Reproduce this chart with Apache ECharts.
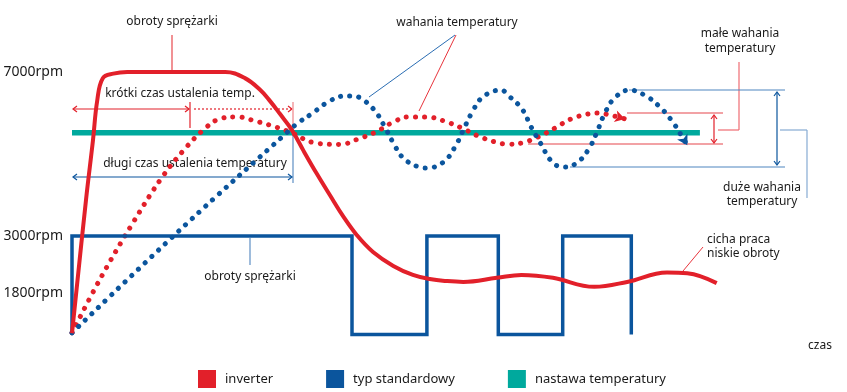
<!DOCTYPE html>
<html><head><meta charset="utf-8">
<script src="https://cdn.jsdelivr.net/npm/echarts@6/dist/echarts.min.js"></script>
<style>html,body{margin:0;padding:0;background:#fff}#c{width:847px;height:392px}</style>
</head><body><div id="c"></div>
<script>
// ---- data ----
const rpmTicks = [1800, 3000, 7000];
const legendNames = ['inverter', 'typ standardowy', 'nastawa temperatury'];
// compressor speed, inverter [time, rpm]
const invSpeed = [[0,630],[2.0,3880],[3.0,5340],[3.6,6300],[4.4,6850],[5.9,6960],[7.9,7000],[21.9,7000],[24.7,6850],[26.9,6560],[28.3,6290],[29.7,5980],[31.4,5590],[33.1,5070],[35.0,4510],[36.9,3980],[38.7,3490],[40.7,3020],[43.0,2610],[45.9,2270],[48.7,2050],[51.1,1950],[53.6,1900],[55.9,1880],[60.7,1980],[64.2,2050],[68.7,1980],[74.6,1760],[79.3,1880],[85.0,2110],[87.9,2090],[92.1,1850]];
// compressor speed, standard (on/off) [time, rpm]
const stdSpeed = [[0,600],[0,3000],[40,3000],[40,600],[50.7,600],[50.7,3000],[60.9,3000],[60.9,600],[70.1,600],[70.1,3000],[79.9,3000],[79.9,600]];
// room temperature, inverter [time, temp]
const invTemp = [[0,8],[4.1,24.7],[8.7,41.5],[12.9,55.5],[16.1,64.0],[18.9,70.1],[21.1,73.2],[23.6,73.8],[26.1,72.6],[28.7,71.0],[31.1,69.2],[34.7,65.9],[38.3,65.4],[40.9,67.1],[43.4,69.2],[45.7,72.0],[48.1,73.8],[50.7,73.8],[53.1,72.6],[55.7,70.4],[58.0,68.0],[60.4,66.2],[62.3,65.5],[64.3,65.9],[66.6,67.7],[69.0,70.4],[71.3,73.2],[73.7,74.7],[75.0,75.0],[77.4,74.1],[79.0,73.2]];
// room temperature, standard [time, temp]
const stdTemp = [[0,8],[15.9,40.3],[31.1,69.8],[32.3,72.0],[34.4,75.0],[36.6,78.4],[39.0,80.2],[40.1,80.2],[41.4,79.3],[43.3,75.6],[44.7,70.7],[45.9,65.9],[47.3,61.3],[49.6,58.5],[50.7,58.2],[53.1,60.1],[54.7,64.6],[55.9,69.8],[57.1,75.0],[58.7,79.9],[61.3,82.0],[62.4,80.2],[64.3,76.2],[65.6,70.7],[66.9,65.9],[68.7,59.8],[70.4,58.5],[72.3,60.1],[73.9,64.3],[75.0,69.2],[76.0,74.4],[77.4,79.3],[79.6,82.0],[82.0,80.2],[84.0,76.8],[85.7,72.6],[87.1,68.0],[87.9,65.2]];
// temperature setpoint
const setpoint = [[0,69],[89.7,69]];

// ---- styles ----
const RED='#e2202a', BLUE='#0b559d', TEAL='#00a99d', PINK='#f3a3a6', LBLUE='#86abd3', MBLUE='#4f86c0', TXT='#1a1a1a';
const FONT='"Noto Sans", "Open Sans", sans-serif';

function ln(x1,y1,x2,y2,color,w,dash){return {type:'line',shape:{x1,y1,x2,y2},style:{stroke:color,lineWidth:w||1.2,lineDash:dash||null},z:1};}
function pl(pts,color,w){return {type:'polyline',shape:{points:pts},style:{stroke:color,lineWidth:w||1.2,fill:null},z:1};}
function tx(t,x,y,align){return {type:'text',x:x,y:y,style:{text:t,font:'12px '+FONT,fill:TXT,align:align||'center',verticalAlign:'middle'},z:2};}
function hArrowL(x,y,c){return pl([[x+4,y-3],[x,y],[x+4,y+3]],c);}
function hArrowR(x,y,c){return pl([[x-4,y-3],[x,y],[x-4,y+3]],c);}
function vArrowU(x,y,c){return pl([[x-3,y+4],[x,y],[x+3,y+4]],c);}
function vArrowD(x,y,c){return pl([[x-3,y-4],[x,y],[x+3,y-4]],c);}

const graphics = [
  tx('obroty sprężarki',172,22), ln(172,35,172,70,'#e8484e'),
  tx('krótki czas ustalenia temp.',180,94),
  ln(73,109,189,109,RED), hArrowL(73,109,RED), hArrowR(189,109,RED),
  ln(190,102,190,128,RED),
  ln(194,109,291,109,RED,1.2,[2,2]), hArrowR(292,109,RED),
  ln(293,102,293,127,PINK,1.6), ln(293,127,293,183,LBLUE,1.6),
  tx('długi czas ustalenia temperatury',195,164),
  ln(73,177,291,177,BLUE), hArrowL(73,177,BLUE), hArrowR(292,177,BLUE),
  tx('wahania temperatury',457,23),
  ln(455,35,369,97,'#2a6db3',1), ln(456,35,419,111,'#e8343c',1),
  tx('małe wahania',740,34), tx('temperatury',740,49),
  ln(739,62,739,130,'#ef6c72'), ln(718,130,739,130,'#ef6c72'),
  ln(627,113,723,113,'#e5474d'), ln(528,144,723,144,'#e5474d'),
  ln(714,116,714,142,RED), vArrowU(714,115,RED), vArrowD(714,143,RED),
  tx('duże wahania',762,188), tx('temperatury',762,202),
  ln(629,90,785,90,MBLUE), ln(570,167,785,167,MBLUE),
  ln(777,93,777,164,BLUE), vArrowU(777,92,BLUE), vArrowD(777,165,BLUE),
  ln(780,130,807,130,LBLUE), ln(807,130,807,198,LBLUE),
  tx('obroty sprężarki',250,277), ln(250,238,250,265,LBLUE,1.6),
  tx('cicha praca',707,240,'left'), tx('niskie obroty',707,254,'left'),
  ln(703,247,683,271,'#e8343c',1),
  tx('czas',820,346)
];

const dotted = (c)=>({color:c,width:5,type:[0.1,9.1],cap:'round'});
const last = a => a[a.length-1];

const chart = echarts.init(document.getElementById('c'), null, {renderer:'canvas'});
chart.setOption({
  animation:false,
  backgroundColor:'#fff',
  textStyle:{fontFamily:FONT},
  grid:{left:72,right:75,top:31,bottom:33,containLabel:false},
  xAxis:{type:'value',min:0,max:100,show:false},
  yAxis:[
    {type:'value',min:0,max:8000,axisLine:{show:false},axisTick:{show:false},splitLine:{show:false},
     axisLabel:{customValues:rpmTicks,formatter:v=>(v===rpmTicks[0]?'{lo|'+v+'rpm}':v+'rpm'),color:TXT,fontSize:14,margin:9,fontFamily:FONT,
       rich:{lo:{fontSize:14,color:TXT,fontFamily:FONT,padding:[15,0,0,0]}}}},
    {type:'value',min:0,max:100,show:false}
  ],
  legend:{left:198,top:370,padding:0,itemWidth:18,itemHeight:18,itemGap:53,icon:'rect',
    data:[{name:legendNames[0],itemStyle:{color:RED}},{name:legendNames[1],itemStyle:{color:BLUE}},{name:legendNames[2],itemStyle:{color:TEAL}}],
    textStyle:{fontSize:13,color:TXT,fontFamily:FONT,padding:[0,0,0,4]},itemStyle:{borderWidth:0}},
  graphic:graphics,
  series:[
    {name:legendNames[2],type:'line',yAxisIndex:1,data:setpoint,symbol:'none',z:1,
     lineStyle:{color:TEAL,width:5.5},itemStyle:{color:TEAL}},
    {name:legendNames[0],type:'line',yAxisIndex:1,data:invTemp,smooth:0.4,symbol:'none',z:3,
     lineStyle:dotted(RED),itemStyle:{color:RED},
     markPoint:{symbol:'arrow',symbolSize:[9,10],symbolRotate:-105,label:{show:false},itemStyle:{color:RED},
       data:[{coord:last(invTemp)}]}},
    {name:legendNames[1],type:'line',yAxisIndex:1,data:stdTemp,smooth:0.4,symbol:'none',z:3,
     lineStyle:dotted(BLUE),itemStyle:{color:BLUE},
     markPoint:{symbol:'arrow',symbolSize:[9,10],symbolRotate:-150,label:{show:false},itemStyle:{color:BLUE},
       data:[{coord:last(stdTemp)}]}},
    {name:legendNames[1],type:'line',data:stdSpeed,symbol:'none',z:4,
     lineStyle:{color:BLUE,width:3.5,join:'miter'},itemStyle:{color:BLUE}},
    {name:legendNames[0],type:'line',data:invSpeed,smooth:0.4,symbol:'none',z:5,
     lineStyle:{color:RED,width:4},itemStyle:{color:RED}}
  ]
});
</script></body></html>
